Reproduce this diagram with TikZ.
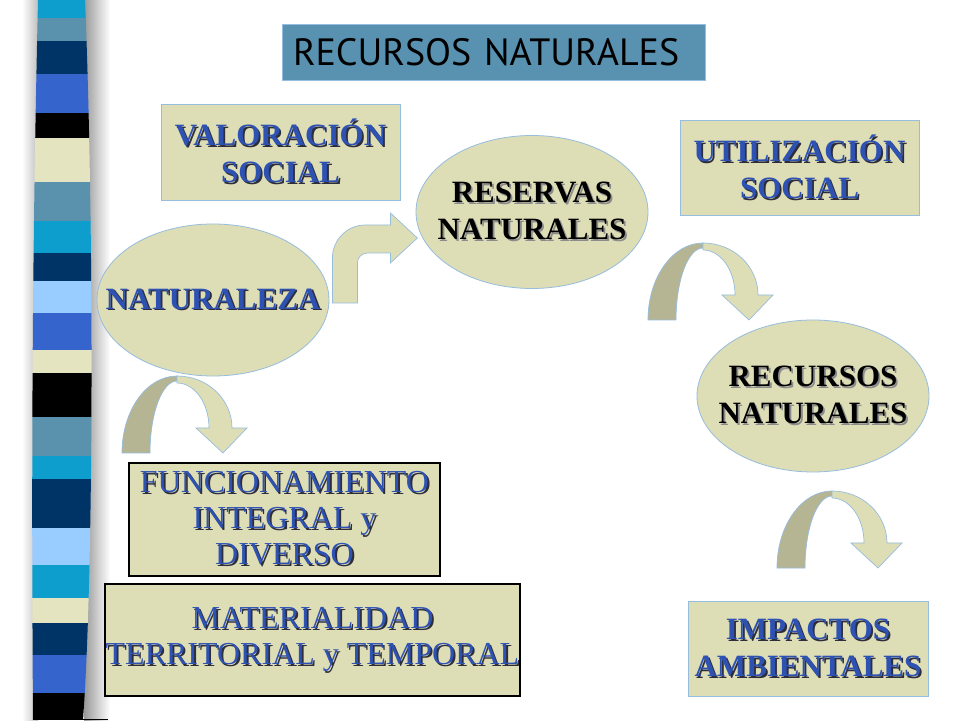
\documentclass[tikz,border=0pt]{standalone}
\usepackage{fontspec}
\setmainfont{Liberation Serif}
\newfontfamily\titlefont{PT Sans}
\usetikzlibrary{shapes.geometric,calc}
\definecolor{tan}{RGB}{222,222,182}
\definecolor{tandark}{RGB}{181,181,148}
\definecolor{edgeblue}{RGB}{150,188,222}
\definecolor{titleblue}{RGB}{88,146,176}
\definecolor{txtblue}{RGB}{46,82,178}
\definecolor{shadowb}{RGB}{45,45,60}
\definecolor{shadowk}{RGB}{140,140,140}
\definecolor{barcyan}{RGB}{14,158,206}
\definecolor{barsteel}{RGB}{90,146,174}
\definecolor{barnavy}{RGB}{0,52,102}
\definecolor{barroyal}{RGB}{52,100,204}
\definecolor{barlight}{RGB}{153,204,255}
\definecolor{barbeige}{RGB}{228,228,192}
\newcommand{\sh}[1]{\leavevmode\rlap{\hspace{1.8pt}\raisebox{-1.8pt}{\textcolor{shadowb}{#1}}}#1}
\newcommand{\shk}[1]{\leavevmode\rlap{\hspace{1.8pt}\raisebox{-1.8pt}{\textcolor{shadowk}{#1}}}#1}
\newcommand{\curvarrow}[1]{%
    \begin{scope}[shift={(#1)}]
        \filldraw[fill=tandark, draw=edgeblue, line width=0.7pt] (0,0) arc[start angle=180, end angle=90, x radius=55, y radius=77]
            -- (55,72) arc[start angle=90, end angle=180, x radius=27, y radius=72] -- cycle;
        \filldraw[fill=tan, draw=edgeblue, line width=0.7pt] (55,77) arc[start angle=90, end angle=0, x radius=55, y radius=52]
            -- (125,25) -- (101,0) -- (74,25) -- (87,25)
            arc[start angle=0, end angle=90, x radius=32, y radius=45] -- cycle;
    \end{scope}}

\begin{document}
\begin{tikzpicture}[x=1pt,y=1pt]
        \tikzstyle{titlebox} = [draw=edgeblue, line width=0.8pt, fill=titleblue, rectangle, minimum width=423pt, minimum height=56pt, text width=401pt, inner sep=11pt, align=left, font=\titlefont\fontsize{38}{38}\selectfont]
        \tikzstyle{tanbox} = [draw=edgeblue, line width=0.8pt, fill=tan, rectangle, minimum width=239pt, minimum height=96pt, inner sep=0pt, align=center, text=txtblue, font=\fontsize{31}{37}\selectfont\bfseries]
        \tikzstyle{blackbox} = [draw=black, line width=1.3pt, fill=tan, rectangle, inner sep=0pt, align=center, text=txtblue, font=\fontsize{32}{36}\selectfont]
        \tikzstyle{tanoval} = [draw=edgeblue, line width=0.8pt, fill=tan, ellipse, minimum width=232pt, minimum height=152pt, inner sep=0pt]
        \tikzstyle{ovaltext} = [inner sep=0pt, align=center, font=\fontsize{31}{37}\selectfont\bfseries]
        \useasboundingbox (0,0) rectangle (960,720);
        \fill[white] (0,0) rectangle (960,720);
        % striped bar on the left
        \shade[left color=white, right color=black!25] (22,0) rectangle (38,720);
        \shade[left color=black!40, right color=white] (84,0) rectangle (110,720);
        \begin{scope}
            \clip (38,720) .. controls (33,500) and (31,300) .. (33,0) -- (83,0) .. controls (94,150) and (94,500) .. (85,720) -- cycle;
            \foreach \ya/\yb/\c in {0/18/barcyan, 18/41/barsteel, 41/74/barnavy, 74/113/barroyal, 113/138/black, 138/182/barbeige,
                182/221/barsteel, 221/253/barcyan, 253/281/barnavy, 281/313/barlight, 313/350/barroyal, 350/373/barbeige,
                373/417/black, 417/456/barsteel, 456/479/barcyan, 479/528/barnavy, 528/565/barlight, 565/598/barcyan,
                598/623/barbeige, 623/655/barnavy, 655/693/barroyal, 693/720/black}
                \fill[\c] (20,{720-\ya}) rectangle (110,{720-\yb});
        \end{scope}
        \draw[black, line width=0.8pt] (80,0.5) -- (108,0.5);

        \node (title) [titlebox] at (493.5,668) {RECURSOS NATURALES};
        \node (valor) [tanbox] at (280.5,568) {\sh{VALORACIÓN}\\\sh{SOCIAL}};
        \node (util) [tanbox, minimum height=95pt] at (799.5,552.5) {\sh{UTILIZACIÓN}\\\sh{SOCIAL}};
        \node (reserv) [tanoval, minimum height=153pt] at (532,508) {};
        \node (reservtext) [ovaltext] at (reserv.center) {\shk{RESERVAS}\\\shk{NATURALES}};
        \node (nat) [tanoval] at (213,420) {};
        \node (nattext) [ovaltext, text=txtblue] at (nat.center) {\sh{NATURALEZA}};
        \node (recur) [tanoval] at (813,324) {};
        \node (recurtext) [ovaltext] at (recur.center) {\shk{RECURSOS}\\\shk{NATURALES}};
        \node (funcion) [blackbox, minimum width=311pt, minimum height=113pt] at (284.5,200.5) {\sh{FUNCIONAMIENTO}\\\sh{INTEGRAL y}\\\sh{DIVERSO}};
        \node (materi) [blackbox, minimum width=415pt, minimum height=112pt] at (312.5,80) {\sh{MATERIALIDAD}\\\sh{TERRITORIAL y TEMPORAL}};
        \node (impact) [tanbox, minimum width=240pt, minimum height=95pt] at (808,71.5) {\sh{IMPACTOS}\\\sh{AMBIENTALES}};

        % bent arrow from naturaleza to reservas
        \begin{scope}[shift={($(nat.east)+(3,-3)$)}]
            \filldraw[fill=tan, draw=edgeblue, line width=0.7pt] (0,0) -- (0,45) arc[start angle=180, end angle=90, radius=33]
                -- (58,78) -- (58,90) -- (85,65) -- (58,40) -- (58,50) -- (35,50)
                arc[start angle=90, end angle=180, radius=10] -- (25,0) -- cycle;
        \end{scope}
        % curved arrows
        \coordinate (ca1) at (122,267);
        \coordinate (ca2) at (648,400);
        \coordinate (ca3) at (777,152);
        \curvarrow{ca1}
        \curvarrow{ca2}
        \curvarrow{ca3}
\end{tikzpicture}
\end{document}
